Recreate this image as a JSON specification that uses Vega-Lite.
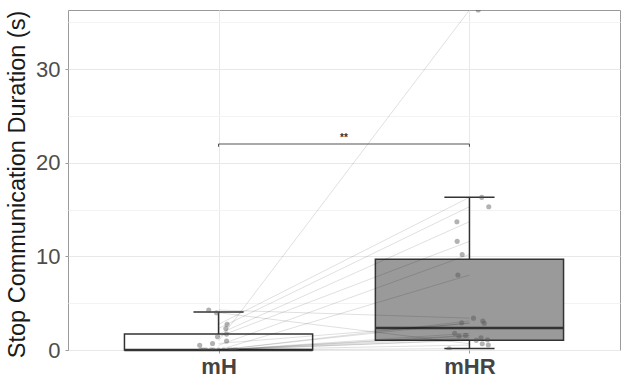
{
  "$schema": "https://vega.github.io/schema/vega-lite/v6.json",
  "width": 552,
  "height": 340,
  "autosize": {"type": "none"},
  "padding": {"left": 68, "top": 10, "right": 10, "bottom": 29},
  "background": "white",
  "config": {
    "font": "Liberation Sans",
    "view": {"stroke": "#9a9a9a", "strokeWidth": 1}
  },
  "datasets": {
    "obs": [
      {"id": 1, "cond": "mH", "pos": 1, "jx": 1.032, "value": 0.96},
      {"id": 2, "cond": "mH", "pos": 1, "jx": 1.034, "value": 2.74},
      {"id": 3, "cond": "mH", "pos": 1, "jx": 1.029, "value": 2.3},
      {"id": 4, "cond": "mH", "pos": 1, "jx": 1.032, "value": 1.7},
      {"id": 5, "cond": "mH", "pos": 1, "jx": 0.996, "value": 1.42},
      {"id": 6, "cond": "mH", "pos": 1, "jx": 0.925, "value": 0.5},
      {"id": 7, "cond": "mH", "pos": 1, "jx": 0.97, "value": 0},
      {"id": 8, "cond": "mH", "pos": 1, "jx": 0.961, "value": 4.27},
      {"id": 9, "cond": "mH", "pos": 1, "jx": 0.992, "value": 3.98},
      {"id": 10, "cond": "mH", "pos": 1, "jx": 1.05, "value": 0},
      {"id": 11, "cond": "mH", "pos": 1, "jx": 0.94, "value": 0},
      {"id": 12, "cond": "mH", "pos": 1, "jx": 0.976, "value": 0.7},
      {"id": 13, "cond": "mH", "pos": 1, "jx": 1.0, "value": 0},
      {"id": 14, "cond": "mH", "pos": 1, "jx": 1.06, "value": 0},
      {"id": 15, "cond": "mH", "pos": 1, "jx": 0.93, "value": 0},
      {"id": 16, "cond": "mH", "pos": 1, "jx": 1.02, "value": 0},
      {"id": 17, "cond": "mH", "pos": 1, "jx": 0.98, "value": 0},
      {"id": 18, "cond": "mH", "pos": 1, "jx": 1.07, "value": 0},
      {"id": 19, "cond": "mH", "pos": 1, "jx": 1.04, "value": 0},
      {"id": 20, "cond": "mH", "pos": 1, "jx": 0.95, "value": 0},
      {"id": 1, "cond": "mHR", "pos": 2, "jx": 2.035, "value": 36.3},
      {"id": 2, "cond": "mHR", "pos": 2, "jx": 2.049, "value": 16.3},
      {"id": 3, "cond": "mHR", "pos": 2, "jx": 2.077, "value": 15.3},
      {"id": 4, "cond": "mHR", "pos": 2, "jx": 1.95, "value": 13.7},
      {"id": 5, "cond": "mHR", "pos": 2, "jx": 1.951, "value": 11.6},
      {"id": 6, "cond": "mHR", "pos": 2, "jx": 1.971, "value": 10.2},
      {"id": 7, "cond": "mHR", "pos": 2, "jx": 1.954, "value": 8.0},
      {"id": 8, "cond": "mHR", "pos": 2, "jx": 2.016, "value": 3.4},
      {"id": 9, "cond": "mHR", "pos": 2, "jx": 2.051, "value": 0.67},
      {"id": 10, "cond": "mHR", "pos": 2, "jx": 2.053, "value": 3.1},
      {"id": 11, "cond": "mHR", "pos": 2, "jx": 1.969, "value": 2.9},
      {"id": 12, "cond": "mHR", "pos": 2, "jx": 2.059, "value": 2.85},
      {"id": 13, "cond": "mHR", "pos": 2, "jx": 1.941, "value": 1.78},
      {"id": 14, "cond": "mHR", "pos": 2, "jx": 1.985, "value": 1.57},
      {"id": 15, "cond": "mHR", "pos": 2, "jx": 1.958, "value": 1.5},
      {"id": 16, "cond": "mHR", "pos": 2, "jx": 2.046, "value": 1.3},
      {"id": 17, "cond": "mHR", "pos": 2, "jx": 2.072, "value": 1.1},
      {"id": 18, "cond": "mHR", "pos": 2, "jx": 2.027, "value": 1.03},
      {"id": 19, "cond": "mHR", "pos": 2, "jx": 2.075, "value": 0.53},
      {"id": 20, "cond": "mHR", "pos": 2, "jx": 1.919, "value": 0.14}
    ],
    "box": [
      {"cond": "mH", "pos": 1, "lower": 0, "q1": 0, "median": 0, "q3": 1.7, "upper": 4.05},
      {"cond": "mHR", "pos": 2, "lower": 0.15, "q1": 1.03, "median": 2.35, "q3": 9.68, "upper": 16.3}
    ],
    "sig": [
      {"from": 1, "to": 2, "y": 22, "yend": 21.7, "mid": 1.5, "label": "**"}
    ]
  },
  "layer": [
    {
      "data": {"name": "box"},
      "mark": {"type": "rule", "color": "#333333", "strokeWidth": 1.5},
      "encoding": {
        "x": {"field": "pos", "type": "quantitative",
          "scale": {"domain": [0.4, 2.6], "nice": false, "zero": false},
          "axis": {
            "values": [1, 2],
            "labelExpr": "datum.value == 1 ? 'mH' : 'mHR'",
            "title": null,
            "domain": false,
            "labelFont": "Liberation Sans",
            "labelFontSize": 22,
            "labelFontWeight": "bold",
            "labelColor": "#444444",
            "labelPadding": 3,
            "tickSize": 3,
            "tickColor": "#9a9a9a",
            "gridColor": "#e8e8e8",
            "gridWidth": 1
          }
        },
        "y": {"field": "lower", "type": "quantitative",
          "scale": {"domain": [0, 36.3], "nice": false, "zero": true},
          "axis": {
            "values": [0, 5, 10, 15, 20, 25, 30, 35],
            "labelExpr": "datum.value % 10 == 0 ? datum.label : ''",
            "title": "Stop Communication Duration (s)",
            "titleFont": "Liberation Sans",
            "titleFontSize": 23.5,
            "titleFontWeight": "normal",
            "titleColor": "#1a1a1a",
            "titlePadding": 6,
            "titleY": 174,
            "domain": false,
            "labelFont": "Liberation Sans",
            "labelFontSize": 22,
            "labelColor": "#4d4d4d",
            "labelPadding": 5,
            "tickSize": 3,
            "tickColor": "#9a9a9a",
            "tickOpacity": {"condition": {"test": "datum.value % 10 == 0", "value": 1}, "value": 0},
            "gridColor": {"condition": {"test": "datum.value % 10 == 0", "value": "#e8e8e8"}, "value": "#f3f3f3"},
            "gridWidth": 1
          }
        },
        "y2": {"field": "upper"}
      }
    },
    {
      "data": {"name": "box"},
      "transform": [
        {"calculate": "datum.pos - 0.1", "as": "clo"},
        {"calculate": "datum.pos + 0.1", "as": "chi"}
      ],
      "mark": {"type": "rule", "color": "#333333", "strokeWidth": 1.5},
      "encoding": {
        "x": {"field": "clo", "type": "quantitative"},
        "x2": {"field": "chi"},
        "y": {"field": "upper", "type": "quantitative"}
      }
    },
    {
      "data": {"name": "box"},
      "transform": [
        {"calculate": "datum.pos - 0.1", "as": "clo"},
        {"calculate": "datum.pos + 0.1", "as": "chi"}
      ],
      "mark": {"type": "rule", "color": "#333333", "strokeWidth": 1.5},
      "encoding": {
        "x": {"field": "clo", "type": "quantitative"},
        "x2": {"field": "chi"},
        "y": {"field": "lower", "type": "quantitative"}
      }
    },
    {
      "data": {"name": "box"},
      "transform": [
        {"calculate": "datum.pos - 0.375", "as": "blo"},
        {"calculate": "datum.pos + 0.375", "as": "bhi"}
      ],
      "mark": {"type": "rect", "stroke": "#333333", "strokeWidth": 1.5},
      "encoding": {
        "x": {"field": "blo", "type": "quantitative"},
        "x2": {"field": "bhi"},
        "y": {"field": "q1", "type": "quantitative"},
        "y2": {"field": "q3"},
        "fill": {"field": "cond", "type": "nominal",
          "scale": {"domain": ["mH", "mHR"], "range": ["#ffffff", "#9a9a9a"]},
          "legend": null}
      }
    },
    {
      "data": {"name": "box"},
      "transform": [
        {"calculate": "datum.pos - 0.375", "as": "blo"},
        {"calculate": "datum.pos + 0.375", "as": "bhi"}
      ],
      "mark": {"type": "rule", "color": "#333333", "strokeWidth": 2.5},
      "encoding": {
        "x": {"field": "blo", "type": "quantitative"},
        "x2": {"field": "bhi"},
        "y": {"field": "median", "type": "quantitative"}
      }
    },
    {
      "data": {"name": "obs"},
      "mark": {"type": "line", "color": "#000000", "opacity": 0.14, "strokeWidth": 0.9, "clip": true},
      "encoding": {
        "x": {"field": "pos", "type": "quantitative"},
        "y": {"field": "value", "type": "quantitative"},
        "detail": {"field": "id", "type": "nominal"},
        "order": {"field": "pos", "type": "quantitative"}
      }
    },
    {
      "data": {"name": "obs"},
      "mark": {"type": "circle", "color": "#555555", "opacity": 0.45, "size": 26, "clip": true},
      "encoding": {
        "x": {"field": "jx", "type": "quantitative"},
        "y": {"field": "value", "type": "quantitative"}
      }
    },
    {
      "data": {"name": "sig"},
      "mark": {"type": "rule", "color": "#555555", "strokeWidth": 1.1},
      "encoding": {
        "x": {"field": "from", "type": "quantitative"},
        "x2": {"field": "to"},
        "y": {"field": "y", "type": "quantitative"}
      }
    },
    {
      "data": {"name": "sig"},
      "mark": {"type": "rule", "color": "#555555", "strokeWidth": 1.1},
      "encoding": {
        "x": {"field": "from", "type": "quantitative"},
        "y": {"field": "y", "type": "quantitative"},
        "y2": {"field": "yend"}
      }
    },
    {
      "data": {"name": "sig"},
      "mark": {"type": "rule", "color": "#555555", "strokeWidth": 1.1},
      "encoding": {
        "x": {"field": "to", "type": "quantitative"},
        "y": {"field": "y", "type": "quantitative"},
        "y2": {"field": "yend"}
      }
    },
    {
      "data": {"name": "sig"},
      "mark": {"type": "text", "fill": "#333333", "fontSize": 10, "fontWeight": "bold", "baseline": "bottom", "dy": -1, "font": "Liberation Sans"},
      "encoding": {
        "x": {"field": "mid", "type": "quantitative"},
        "y": {"field": "y", "type": "quantitative"},
        "text": {"field": "label"}
      }
    }
  ]
}
